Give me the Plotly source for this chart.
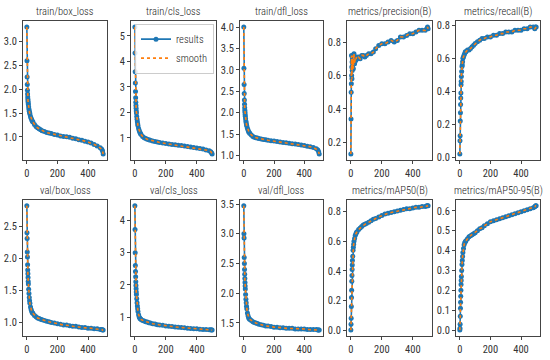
import plotly.graph_objects as go

epochs = [0, 1, 2, 3, 4, 5, 6, 7, 8, 9, 10, 12, 14, 16, 18, 20, 24, 28, 32, 36, 40, 50, 60, 70, 80,
          90, 100, 115, 130, 145, 160, 180, 200, 220, 240, 260, 280, 300, 320, 340, 360, 380, 400,
          420, 440, 460, 480, 490, 495, 499]

train_box_loss = [3.31, 2.60, 2.26, 2.10, 1.98, 1.90, 1.84, 1.79, 1.75, 1.71, 1.68, 1.63, 1.58, 1.54, 1.51,
                  1.48, 1.43, 1.39, 1.36, 1.33, 1.31, 1.26, 1.22, 1.19, 1.17, 1.15, 1.13, 1.11, 1.09, 1.08,
                  1.07, 1.05, 1.04, 1.02, 1.01, 1.00, 0.99, 0.97, 0.96, 0.94, 0.93, 0.91, 0.89, 0.87, 0.84,
                  0.81, 0.77, 0.74, 0.70, 0.64]
train_cls_loss = [5.35, 4.33, 3.60, 3.15, 2.82, 2.58, 2.40, 2.27, 2.16, 2.06, 1.98, 1.84, 1.73, 1.63, 1.55,
                  1.48, 1.37, 1.29, 1.22, 1.17, 1.13, 1.06, 1.01, 0.98, 0.95, 0.93, 0.91, 0.88, 0.86, 0.84,
                  0.82, 0.80, 0.78, 0.76, 0.74, 0.73, 0.71, 0.70, 0.68, 0.66, 0.64, 0.62, 0.60, 0.58, 0.56,
                  0.53, 0.50, 0.46, 0.42, 0.37]
train_dfl_loss = [4.00, 3.04, 2.66, 2.45, 2.30, 2.20, 2.12, 2.06, 2.01, 1.96, 1.92, 1.86, 1.80, 1.76, 1.72,
                  1.69, 1.64, 1.60, 1.56, 1.54, 1.52, 1.48, 1.45, 1.43, 1.42, 1.41, 1.40, 1.39, 1.38, 1.37,
                  1.36, 1.35, 1.34, 1.33, 1.32, 1.31, 1.30, 1.29, 1.28, 1.27, 1.26, 1.25, 1.24, 1.22, 1.21,
                  1.19, 1.16, 1.13, 1.09, 1.04]
precision = [0.13, 0.34, 0.50, 0.55, 0.72, 0.60, 0.65, 0.58, 0.68, 0.63, 0.70, 0.66, 0.72, 0.64, 0.69,
             0.73, 0.67, 0.70, 0.69, 0.71, 0.70, 0.71, 0.70, 0.72, 0.72, 0.71, 0.72, 0.73, 0.73, 0.74,
             0.76, 0.78, 0.79, 0.79, 0.80, 0.81, 0.80, 0.81, 0.83, 0.83, 0.84, 0.85, 0.85, 0.86, 0.87,
             0.87, 0.87, 0.88, 0.89, 0.88]
recall = [0.02, 0.10, 0.13, 0.22, 0.27, 0.32, 0.36, 0.39, 0.44, 0.46, 0.49, 0.52, 0.55, 0.56, 0.58,
          0.60, 0.61, 0.62, 0.63, 0.64, 0.64, 0.65, 0.65, 0.66, 0.67, 0.68, 0.69, 0.70, 0.71, 0.72,
          0.72, 0.73, 0.73, 0.74, 0.74, 0.75, 0.75, 0.76, 0.76, 0.76, 0.77, 0.77, 0.77, 0.78, 0.78,
          0.79, 0.79, 0.78, 0.79, 0.79]
val_box_loss = [2.82, 2.40, 2.31, 2.10, 2.02, 1.90, 1.82, 1.76, 1.70, 1.64, 1.60, 1.52, 1.45, 1.39, 1.34,
                1.30, 1.24, 1.20, 1.17, 1.15, 1.14, 1.11, 1.09, 1.07, 1.06, 1.05, 1.04, 1.03, 1.02, 1.01,
                1.00, 0.99, 0.98, 0.97, 0.96, 0.96, 0.95, 0.94, 0.94, 0.93, 0.92, 0.92, 0.91, 0.91, 0.90,
                0.90, 0.89, 0.89, 0.88, 0.88]
val_cls_loss = [4.45, 3.72, 3.00, 2.60, 2.42, 2.25, 2.10, 1.98, 1.88, 1.78, 1.70, 1.57, 1.45, 1.35, 1.26,
                1.18, 1.08, 1.01, 0.97, 0.95, 0.93, 0.90, 0.88, 0.86, 0.85, 0.83, 0.82, 0.80, 0.79, 0.77,
                0.76, 0.75, 0.73, 0.72, 0.71, 0.70, 0.69, 0.68, 0.67, 0.66, 0.65, 0.64, 0.64, 0.63, 0.62,
                0.62, 0.61, 0.61, 0.60, 0.60]
val_dfl_loss = [3.47, 3.00, 2.93, 2.60, 2.50, 2.40, 2.32, 2.25, 2.18, 2.12, 2.07, 1.98, 1.90, 1.84, 1.78,
                1.74, 1.67, 1.62, 1.59, 1.57, 1.56, 1.54, 1.52, 1.51, 1.50, 1.49, 1.48, 1.47, 1.46, 1.45,
                1.45, 1.44, 1.43, 1.43, 1.42, 1.42, 1.41, 1.41, 1.41, 1.40, 1.40, 1.40, 1.40, 1.39, 1.39,
                1.39, 1.39, 1.38, 1.38, 1.38]
map50 = [0.00, 0.04, 0.08, 0.16, 0.22, 0.27, 0.33, 0.37, 0.41, 0.44, 0.47, 0.50, 0.54, 0.56, 0.58,
         0.60, 0.62, 0.64, 0.65, 0.66, 0.665, 0.68, 0.69, 0.70, 0.71, 0.715, 0.72, 0.73, 0.74, 0.75,
         0.755, 0.765, 0.775, 0.785, 0.79, 0.795, 0.80, 0.805, 0.81, 0.815, 0.82, 0.82, 0.825, 0.83, 0.83,
         0.835, 0.835, 0.84, 0.84, 0.84]
map50_95 = [0.00, 0.01, 0.03, 0.07, 0.11, 0.14, 0.17, 0.20, 0.23, 0.25, 0.27, 0.30, 0.33, 0.35, 0.37,
            0.39, 0.41, 0.43, 0.44, 0.445, 0.45, 0.46, 0.47, 0.475, 0.48, 0.485, 0.49, 0.50, 0.51, 0.515,
            0.525, 0.535, 0.545, 0.55, 0.555, 0.56, 0.565, 0.57, 0.575, 0.58, 0.585, 0.59, 0.595, 0.60, 0.605,
            0.61, 0.615, 0.62, 0.625, 0.625]

titles = ["train/box_loss", "train/cls_loss", "train/dfl_loss", "metrics/precision(B)", "metrics/recall(B)",
          "val/box_loss", "val/cls_loss", "val/dfl_loss", "metrics/mAP50(B)", "metrics/mAP50-95(B)"]
series = [train_box_loss, train_cls_loss, train_dfl_loss, precision, recall,
          val_box_loss, val_cls_loss, val_dfl_loss, map50, map50_95]
dticks = [0.5, 1, 0.5, 0.2, 0.2, 0.5, 1, 0.5, 0.2, 0.1]
tformats = [".1f", "d", ".1f", ".1f", ".1f", ".1f", "d", ".1f", ".1f", ".1f"]

W, H = 550, 360
lefts = [23, 131, 240, 347, 456]
rights = [107, 216, 323, 432, 540]
rows_px = [(19, 161), (201, 340)]

FONT = "Roboto Condensed, Liberation Sans Narrow, Roboto, sans-serif"
BLUE = "#1f77b4"
ORANGE = "#ff7f0e"

fig = go.Figure()
annotations = []
for i, (title, ys) in enumerate(zip(titles, series)):
    r, c = divmod(i, 5)
    n = i + 1
    xa = "x" if n == 1 else f"x{n}"
    ya = "y" if n == 1 else f"y{n}"
    fig.add_trace(go.Scatter(x=epochs, y=ys, mode="lines+markers", name="results",
                             line=dict(color=BLUE, width=1.6),
                             marker=dict(color=BLUE, size=5),
                             xaxis=xa, yaxis=ya, showlegend=(i == 1)))
    fig.add_trace(go.Scatter(x=epochs, y=ys, mode="lines", name="smooth",
                             line=dict(color=ORANGE, width=1.6, dash="dot"),
                             xaxis=xa, yaxis=ya, showlegend=(i == 1)))
    top, bot = rows_px[r]
    xd = [lefts[c] / W, rights[c] / W]
    yd = [1 - bot / H, 1 - top / H]
    lo, hi = min(ys), max(ys)
    pad = (hi - lo) * 0.05
    xkey = "xaxis" if n == 1 else f"xaxis{n}"
    ykey = "yaxis" if n == 1 else f"yaxis{n}"
    common = dict(showline=True, linecolor="#444", linewidth=0.8, mirror=True, showgrid=False,
                  zeroline=False, ticks="outside", ticklen=3, tickcolor="#444", tickwidth=0.8,
                  tickfont=dict(family=FONT, size=10.5, color="#333", weight=400))
    fig.update_layout(**{
        xkey: dict(domain=xd, anchor=ya, range=[-25, 524], tickvals=[0, 200, 400], **common),
        ykey: dict(domain=yd, anchor=xa, range=[lo - pad, hi + pad], dtick=dticks[i],
                   tickformat=tformats[i], **common),
    })
    annotations.append(dict(text=title, x=(xd[0] + xd[1]) / 2, y=yd[1], xref="paper", yref="paper",
                            xanchor="center", yanchor="bottom", yshift=1, showarrow=False,
                            font=dict(family=FONT, size=10.5, color="#222", weight=300)))

fig.update_layout(
    width=W, height=H, margin=dict(l=0, r=0, t=0, b=0),
    paper_bgcolor="white", plot_bgcolor="white",
    annotations=annotations,
    legend=dict(x=214 / W, y=1 - 22 / H, xanchor="right", yanchor="top",
                bgcolor="rgba(255,255,255,0.85)", bordercolor="#ccc", borderwidth=1,
                font=dict(family=FONT, size=10.5, color="#222", weight=300), itemwidth=30,
                tracegroupgap=0),
)

fig.write_html("out.html", config={"displayModeBar": False},
               post_script="document.body.style.margin='0';document.body.style.overflow='hidden';")
